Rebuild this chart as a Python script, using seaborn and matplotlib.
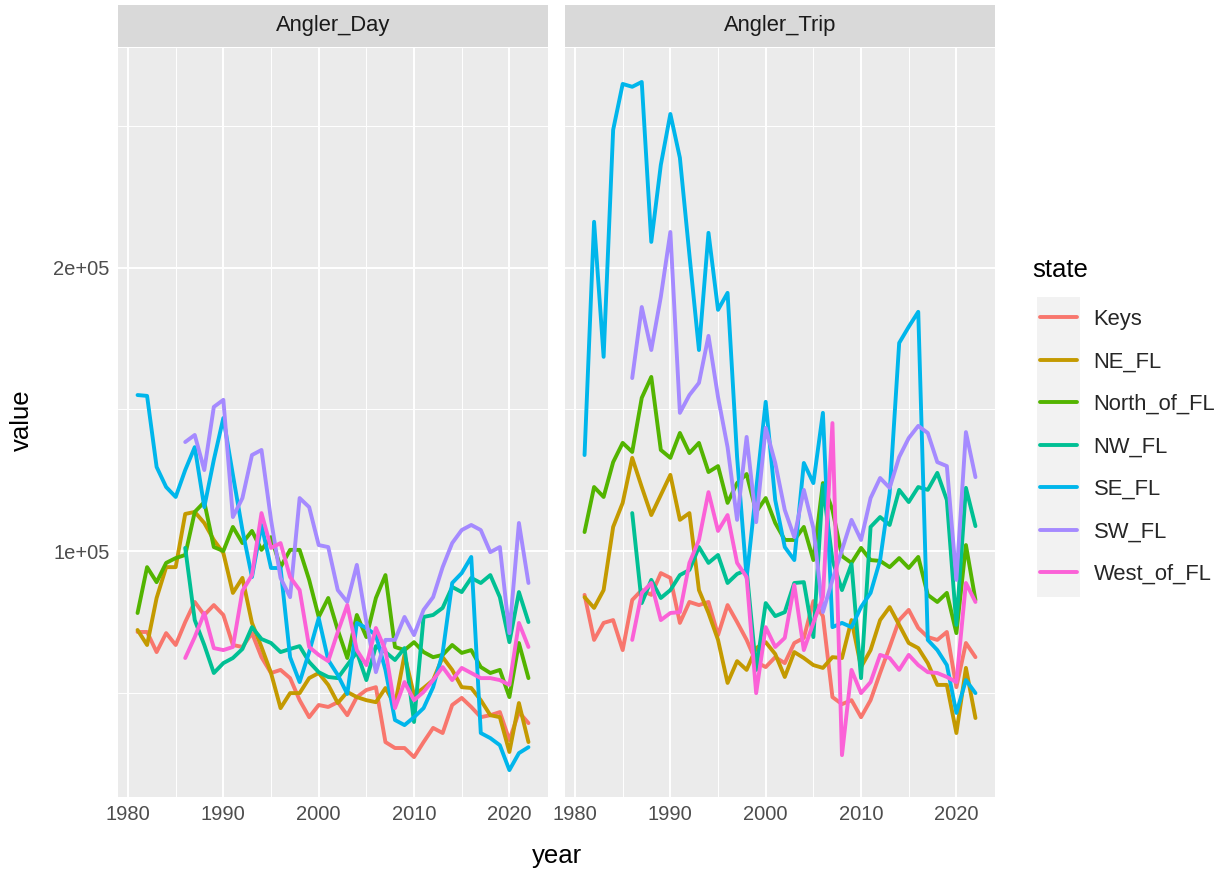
import numpy as np
import pandas as pd
import matplotlib
matplotlib.use("Agg")
import matplotlib.pyplot as plt
import seaborn as sns
from matplotlib.patches import Rectangle
from matplotlib.ticker import FixedLocator, FuncFormatter, NullFormatter

# ---------------- data (values in thousands) ----------------
years = list(range(1981, 2023))
states = ["Keys", "NE_FL", "North_of_FL", "NW_FL", "SE_FL", "SW_FL", "West_of_FL"]
colors = ["#F8766D", "#C49A00", "#53B400", "#00C094", "#00B6EB", "#A58AFF", "#FB61D7"]
metrics = ["Angler_Day", "Angler_Trip"]

# Angler_Day (1981-2022; SW_FL, West_of_FL, NW_FL start 1986)
day_keys = [71.4, 71.4, 64.3, 71.0, 66.8, 74.9, 82.0, 77.4, 80.9, 77.4,
            66.8, 66.1, 71.0, 62.5, 56.9, 58.0, 55.1, 47.3, 41.3, 45.6,
            44.9, 46.6, 42.0, 48.4, 50.9, 51.9, 32.5, 30.4, 30.4, 27.2,
            32.5, 37.5, 35.7, 45.6, 48.1, 44.9, 41.3, 42.0, 43.1, 33.2,
            43.1, 39.2]
day_ne = [72.1, 66.8, 83.4, 94.3, 94.3, 113.1, 113.8, 109.9, 103.9, 99.3,
          85.2, 90.5, 74.6, 66.1, 56.9, 44.5, 49.8, 49.8, 55.1, 56.9,
          52.7, 46.3, 50.2, 48.4, 47.3, 46.6, 51.6, 45.6, 63.3, 49.1,
          51.6, 54.4, 62.5, 58.0, 51.9, 51.6, 47.3, 42.0, 41.3, 29.0,
          46.3, 32.5]
day_north = [78.1, 94.3, 89.0, 95.8, 97.5, 98.6, 113.8, 117.3, 101.4, 100.0,
             108.5, 102.8, 107.1, 100.4, 104.9, 94.3, 100.4, 100.4, 89.8, 76.7,
             83.4, 72.1, 62.2, 77.4, 69.6, 83.4, 91.5, 66.1, 65.0, 67.8,
             64.3, 62.5, 63.3, 66.8, 64.0, 65.0, 59.0, 56.9, 58.0, 48.4,
             67.5, 55.1]
day_nw = [101.1, 75.6, 66.8, 56.9, 60.4, 62.2, 65.4, 73.1, 68.9, 67.5,
          64.3, 65.4, 66.4, 60.8, 57.2, 55.5, 55.1, 59.7, 64.3, 54.4,
          66.4, 64.3, 61.5, 65.7, 39.6, 76.7, 77.4, 79.9, 87.3, 85.5,
          90.5, 88.7, 91.5, 83.7, 67.8, 85.5, 74.9]
day_se = [155.1, 154.8, 129.7, 122.6, 119.1, 128.6, 136.7, 115.5, 132.2, 147.0,
          126.9, 107.4, 90.8, 109.2, 94.0, 94.0, 62.5, 53.7, 64.3, 76.3,
          61.5, 56.2, 49.5, 74.6, 72.8, 70.3, 58.0, 40.3, 38.5, 41.3,
          44.5, 51.9, 64.0, 88.7, 92.2, 97.9, 35.7, 33.9, 31.4, 22.6,
          28.6, 30.7]
day_sw = [138.5, 141.0, 128.6, 150.9, 153.4, 112.0, 118.7, 133.9, 135.7, 111.0,
          90.5, 83.7, 118.7, 115.5, 102.1, 101.4, 86.2, 82.0, 95.1, 74.9,
          57.2, 68.6, 68.6, 76.7, 70.3, 79.2, 83.7, 94.3, 102.8, 107.4,
          109.2, 107.4, 99.6, 101.4, 71.0, 109.9, 88.7]
day_west = [62.2, 69.6, 78.1, 65.7, 65.0, 66.1, 85.9, 91.5, 113.4, 101.1,
            102.8, 90.8, 86.2, 66.1, 63.3, 61.1, 71.4, 80.9, 65.0, 59.7,
            72.8, 65.0, 44.5, 53.7, 47.3, 50.2, 54.4, 59.0, 54.4, 58.7,
            56.9, 55.1, 55.1, 54.4, 52.7, 74.6, 66.1]

# Angler_Trip
trip_keys = [84.5, 68.6, 74.6, 75.6, 65.0, 82.7, 86.2, 84.5, 92.2, 90.5,
             74.6, 82.0, 80.9, 82.0, 70.3, 80.9, 74.9, 68.6, 60.8, 59.0,
             62.5, 60.4, 67.5, 69.3, 82.3, 77.0, 48.4, 45.9, 47.3, 41.3,
             47.3, 56.9, 66.1, 75.6, 79.2, 72.8, 69.6, 68.6, 71.4, 51.9,
             67.5, 62.5]
trip_ne = [83.7, 79.9, 86.2, 108.5, 117.0, 132.9, 122.6, 112.7, 119.8, 126.9,
           111.0, 113.4, 86.2, 78.1, 68.6, 53.4, 61.1, 58.0, 65.7, 67.8,
           63.6, 55.5, 64.3, 62.2, 59.7, 58.7, 62.5, 62.2, 75.6, 59.0,
           65.0, 75.6, 80.2, 73.9, 67.5, 65.7, 60.4, 52.7, 52.7, 35.7,
           58.7, 41.0]
trip_north = [106.7, 122.6, 119.1, 131.4, 138.2, 135.0, 154.1, 161.5, 135.7, 132.9,
              141.7, 134.6, 138.2, 127.9, 130.0, 117.0, 124.0, 127.2, 113.8, 118.7,
              109.9, 103.9, 103.9, 108.5, 96.8, 124.0, 114.5, 98.2, 95.8, 101.1,
              96.8, 96.5, 94.3, 97.5, 94.0, 97.9, 84.5, 82.0, 85.2, 71.0,
              102.1, 82.7]
trip_nw = [113.4, 81.6, 89.8, 83.4, 86.2, 91.5, 93.3, 101.4, 95.8, 98.6,
           88.7, 91.9, 93.3, 58.0, 81.6, 77.0, 78.4, 88.7, 89.0, 69.6,
           123.3, 96.8, 86.2, 95.4, 55.1, 108.5, 112.0, 109.2, 121.6, 117.3,
           122.6, 121.6, 127.6, 118.0, 73.9, 122.3, 108.8]
trip_se = [133.9, 216.3, 168.6, 248.8, 265.0, 264.0, 265.7, 209.2, 236.4, 254.4,
           238.9, 204.6, 171.0, 212.4, 185.2, 191.2, 133.2, 90.5, 121.6, 152.7,
           118.0, 101.4, 96.8, 131.1, 124.0, 148.8, 73.1, 74.6, 73.1, 80.2,
           85.2, 96.8, 120.5, 173.5, 179.2, 184.5, 68.6, 65.0, 59.7, 42.8,
           54.4, 49.8]
trip_sw = [161.1, 186.2, 171.0, 189.8, 212.7, 148.8, 155.1, 159.4, 176.0, 154.4,
           136.7, 111.0, 140.3, 110.2, 143.5, 131.1, 114.5, 104.9, 121.6, 108.1,
           78.4, 89.8, 100.4, 111.0, 103.9, 118.7, 125.8, 122.3, 133.2, 139.9,
           144.2, 141.7, 131.4, 130.0, 89.8, 142.0, 126.1]
trip_west = [68.6, 85.2, 88.7, 75.6, 78.1, 78.4, 95.8, 103.9, 120.8, 107.1,
             112.7, 95.8, 90.8, 49.8, 73.1, 66.1, 69.3, 88.0, 65.0, 74.6,
             83.7, 145.2, 27.9, 58.0, 49.8, 53.7, 63.3, 62.2, 58.0, 63.3,
             59.7, 57.2, 56.9, 55.5, 53.7, 88.7, 82.0]

series = {
    "Angler_Day": [day_keys, day_ne, day_north, day_nw, day_se, day_sw, day_west],
    "Angler_Trip": [trip_keys, trip_ne, trip_north, trip_nw, trip_se, trip_sw, trip_west],
}

rows = []
for m in metrics:
    for st, vals in zip(states, series[m]):
        start = 2022 - len(vals) + 1
        for i, v in enumerate(vals):
            rows.append({"metric": m, "state": st, "year": start + i, "value": v * 1000})
df = pd.DataFrame(rows)

# ---------------- styling ----------------
sns.set_theme(style="darkgrid")
plt.rcParams["font.family"] = ["Liberation Sans", "DejaVu Sans"]

W, H = 1227, 875
fig = plt.figure(figsize=(W / 100, H / 100), dpi=100)
fig.patch.set_facecolor("white")

panel_left = [118, 565]
panel_w = 430
panel_top, panel_bot = 48, 797

ylim = (13100, 277700)
xpad = 0.05 * (2022 - 1981)
xlim = (1981 - xpad, 2022 + xpad)

TICK = 14.5
TXT = 15.8
TITLE = 18.5
LW = 2.8

axes = []
for k, m in enumerate(metrics):
    ax = fig.add_axes([panel_left[k] / W, 1 - panel_bot / H, panel_w / W, (panel_bot - panel_top) / H])
    axes.append(ax)
    ax.set_facecolor("#EBEBEB")
    sub = df[df["metric"] == m]
    sns.lineplot(data=sub, x="year", y="value", hue="state", hue_order=states,
                 palette=colors, linewidth=LW, ax=ax, legend=(k == 1),
                 errorbar=None, sort=True)
    ax.set_xlim(*xlim)
    ax.set_ylim(*ylim)
    for s in ax.spines.values():
        s.set_visible(False)
    ax.xaxis.set_major_locator(FixedLocator([1980, 1990, 2000, 2010, 2020]))
    ax.xaxis.set_minor_locator(FixedLocator([1985, 1995, 2005, 2015]))
    ax.yaxis.set_major_locator(FixedLocator([100000, 200000]))
    ax.yaxis.set_minor_locator(FixedLocator([50000, 150000, 250000]))
    ax.grid(which="major", color="white", linewidth=1.4)
    ax.grid(which="minor", color="white", linewidth=0.7)
    ax.set_axisbelow(True)
    ax.tick_params(which="major", length=4, width=1.0, color="#333333",
                   labelsize=TICK, labelcolor="#4D4D4D", pad=2)
    ax.tick_params(which="minor", length=0)
    ax.set_xlabel("")
    ax.set_ylabel("")
    if k == 0:
        ax.yaxis.set_major_formatter(FuncFormatter(
            lambda v, p: {100000: "1e+05", 200000: "2e+05"}.get(int(round(v)), "")))
    else:
        ax.yaxis.set_major_formatter(NullFormatter())
        ax.tick_params(axis="y", which="major", length=0)

    # strip
    sax = fig.add_axes([panel_left[k] / W, 1 - 47 / H, panel_w / W, 42 / H])
    sax.set_facecolor("#D9D9D9")
    sax.set_xticks([]); sax.set_yticks([])
    for s in sax.spines.values():
        s.set_visible(False)
    sax.text(0.5, 0.5, m, ha="center", va="center", fontsize=TXT, color="#1A1A1A",
             transform=sax.transAxes)

# legend
handles, labels = axes[1].get_legend_handles_labels()
axes[1].get_legend().remove()
for h in handles:
    h.set_linewidth(LW)
fig.patches.append(Rectangle((1037 / W, 1 - 597 / H), 43 / W, 300 / H,
                             transform=fig.transFigure, facecolor="#F2F2F2",
                             edgecolor="none", zorder=0))
fig.text(1032 / W, 1 - 270 / H, "state", ha="left", va="center", fontsize=TITLE, color="black")
leg = fig.legend(handles, labels, loc="upper left",
                 bbox_to_anchor=(1040 / W, 1 - 309 / H), frameon=False,
                 fontsize=TXT, labelspacing=0.98, borderpad=0, borderaxespad=0,
                 handlelength=1.67, handletextpad=0.77)

fig.text(557 / W, 1 - 856 / H, "year", ha="center", va="center", fontsize=TITLE, color="black")
fig.text(22 / W, 1 - 420 / H, "value", ha="center", va="center", fontsize=TITLE,
         rotation=90, color="black")

fig.savefig("out.png", dpi=100)
